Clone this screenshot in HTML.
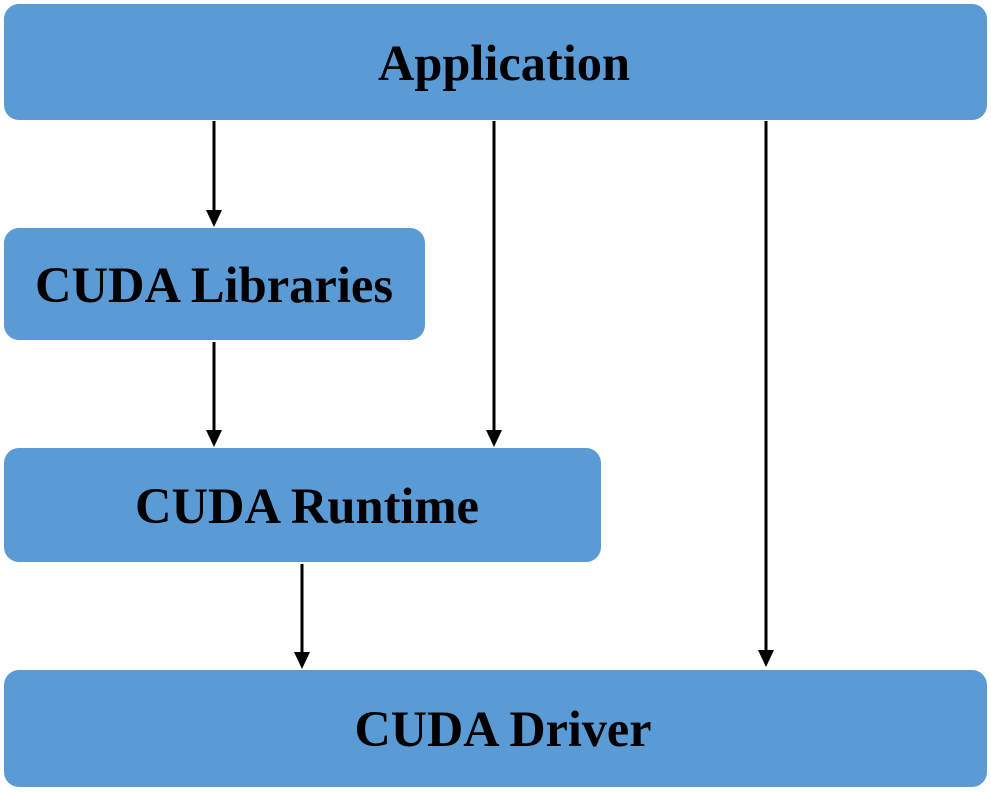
<!DOCTYPE html>
<html><head><style>
html,body{margin:0;padding:0;background:#fff;}
svg{display:block;}
text{font-family:"Liberation Serif",serif;font-weight:bold;font-size:51px;fill:#000;text-anchor:middle;dominant-baseline:central;}
</style></head><body>
<svg width="991" height="792" viewBox="0 0 991 792">
<g fill="#5B9BD5">
<rect x="4" y="4" width="983" height="116" rx="15"/>
<rect x="4" y="228" width="421" height="112" rx="15"/>
<rect x="4" y="448" width="597" height="114" rx="15"/>
<rect x="4" y="670" width="983" height="117" rx="15"/>
</g>
<g stroke="#000" stroke-width="3">
<line x1="214" y1="121" x2="214" y2="212"/>
<line x1="494" y1="121" x2="494" y2="432"/>
<line x1="766" y1="121" x2="766" y2="652"/>
<line x1="214" y1="342" x2="214" y2="432"/>
<line x1="302" y1="564" x2="302" y2="654"/>
</g>
<g fill="#000">
<polygon points="206,210 222,210 214,227"/>
<polygon points="486,430 502,430 494,447"/>
<polygon points="758,650 774,650 766,667"/>
<polygon points="206,430 222,430 214,447"/>
<polygon points="294,652 310,652 302,669"/>
</g>
<text x="504" y="64" textLength="252" lengthAdjust="spacingAndGlyphs">Application</text>
<text x="214" y="286" textLength="358" lengthAdjust="spacingAndGlyphs">CUDA Libraries</text>
<text x="307" y="507" textLength="344" lengthAdjust="spacingAndGlyphs">CUDA Runtime</text>
<text x="503" y="730" textLength="297" lengthAdjust="spacingAndGlyphs">CUDA Driver</text>
</svg>
</body></html>
